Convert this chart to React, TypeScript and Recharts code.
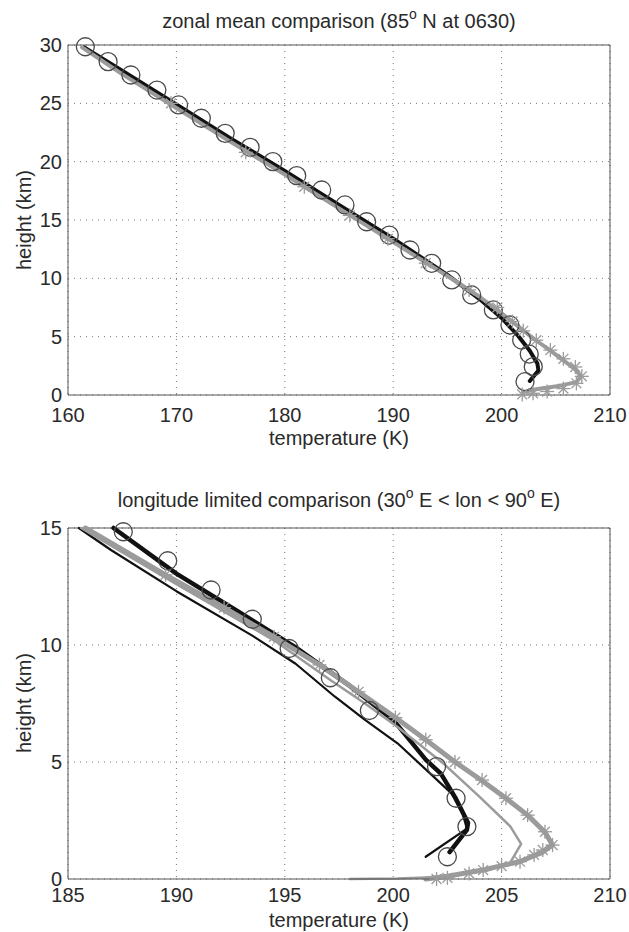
import React from 'react';
import { ComposedChart, Line, XAxis, YAxis, CartesianGrid, ReferenceLine } from 'recharts';

// ---------- top panel: zonal mean comparison ----------
const topXTicks = [160, 170, 180, 190, 200, 210];
const topYTicks = [0, 5, 10, 15, 20, 25, 30];

const topBlackT = [161.5, 165, 170, 175, 180, 185, 190, 195, 198, 200, 201.5, 202.6, 203.3, 203.4, 202.6];
const topBlackH = [29.8, 27.8, 24.9, 22.0, 19.2, 16.3, 13.4, 10.3, 8.2, 6.6, 5.1, 3.8, 2.7, 2.1, 1.2];

const topGreyT = [161.3, 165, 170, 175, 180, 185, 190, 195, 198, 200, 201.5, 203, 204.5, 205.8, 206.8, 207.3, 206.9, 205.4, 203.2, 202];
const topGreyH = [29.8, 27.5, 24.6, 21.7, 18.9, 16.0, 13.1, 10.2, 8.4, 7.0, 5.9, 4.8, 3.8, 2.9, 2.2, 1.6, 1.1, 0.8, 0.5, 0.25];

const topCircleT = [161.6, 163.7, 165.8, 168.2, 170.2, 172.3, 174.5, 176.8, 178.9, 181.1, 183.4, 185.55, 187.55, 189.64, 191.55, 193.55, 195.4, 197.24, 199.24, 200.77, 201.85, 202.55, 202.92, 202.16];
const topCircleH = [29.85, 28.57, 27.43, 26.14, 24.86, 23.72, 22.43, 21.23, 20.0, 18.8, 17.57, 16.29, 14.85, 13.71, 12.43, 11.29, 9.86, 8.57, 7.29, 6.0, 4.71, 3.51, 2.43, 1.14];

const topStarT = [169.5, 176.4, 181.8, 186.0, 189.5, 193.0, 197.0, 199.6, 201.0, 202.0, 203.2, 204.5, 205.7, 206.8, 207.4, 206.9, 205.7, 204.2, 202.9, 201.9];
const topStarH = [25.0, 20.8, 17.85, 15.4, 13.4, 11.3, 9.0, 7.5, 6.3, 5.5, 4.7, 3.85, 3.1, 2.4, 1.6, 1.0, 0.55, 0.3, 0.15, 0.05];

// ---------- bottom panel: longitude limited comparison ----------
const botXTicks = [185, 190, 195, 200, 205, 210];
const botYTicks = [0, 5, 10, 15];

const botThinBlackT = [185.5, 187, 190, 193.5, 195.5, 197.3, 198.7, 200.2, 201.6, 202.7, 203.2, 203.4, 201.5];
const botThinBlackH = [15.0, 14.05, 12.3, 10.4, 9.2, 7.8, 6.8, 5.8, 4.6, 3.65, 2.8, 2.15, 0.95];

const botThickBlackT = [187.1, 190, 192.9, 195.5, 198, 200, 201.5, 202.2, 202.85, 203.45, 203.4, 202.6];
const botThickBlackH = [15.0, 13.05, 11.4, 9.9, 8.25, 6.8, 5.1, 4.5, 3.5, 2.4, 2.1, 1.15];

const botThinGreyT = [185.6, 190, 194.5, 197.1, 198.7, 200.2, 202.3, 204.0, 205.4, 205.9, 205.4, 204.3, 202.5, 200.2, 198.0];
const botThinGreyH = [15.0, 12.6, 10.2, 8.5, 7.5, 6.5, 4.95, 3.5, 2.25, 1.5, 0.7, 0.35, 0.1, 0.02, 0.0];

const botThickGreyT = [185.8, 189.5, 192.2, 194.5, 196.6, 198.4, 200.1, 201.5, 202.85, 204.1, 205.2, 206.2, 207.0, 207.35, 206.9, 205.85, 204.2, 202.5, 201.5];
const botThickGreyH = [15.0, 13.0, 11.6, 10.35, 9.15, 8.0, 6.9, 5.95, 5.0, 4.2, 3.45, 2.73, 2.0, 1.45, 1.15, 0.75, 0.4, 0.12, 0.0];

const botCircleT = [187.55, 189.6, 191.6, 193.5, 195.2, 197.1, 198.9, 202.0, 202.9, 203.4, 202.5];
const botCircleH = [14.84, 13.6, 12.35, 11.1, 9.85, 8.6, 7.2, 4.8, 3.45, 2.24, 0.95];

const botStarT = [189.5, 192.2, 194.5, 196.6, 198.4, 200.1, 201.5, 202.85, 204.1, 205.2, 206.2, 207.0, 207.35, 206.9, 206.5, 205.85, 205.0, 204.15, 203.5, 202.5, 202.0];
const botStarH = [13.0, 11.6, 10.35, 9.15, 8.0, 6.9, 5.95, 5.0, 4.23, 3.45, 2.73, 2.02, 1.45, 1.24, 1.03, 0.74, 0.55, 0.38, 0.24, 0.05, 0.0];

const zip = (t: number[], h: number[]) => t.map((v, i) => ({ t: v, h: h[i] }));

const BLACK = '#111';
const GREY = '#9b9b9b';
const FONT = '"Liberation Sans", Arial, sans-serif';

const circleDot = (props: any) => {
  const { cx, cy, index } = props;
  if (cx == null || cy == null) return <g key={`c${index}`} />;
  return <circle key={`c${index}`} cx={cx} cy={cy} r={9} fill="none" stroke="#4a4a4a" strokeWidth={1.3} />;
};

const starDot = (props: any) => {
  const { cx, cy, index } = props;
  if (cx == null || cy == null) return <g key={`s${index}`} />;
  const r = 7;
  const d = r * 0.707;
  return (
    <g key={`s${index}`} stroke={GREY} strokeWidth={1.3}>
      <line x1={cx - r} y1={cy} x2={cx + r} y2={cy} />
      <line x1={cx} y1={cy - r} x2={cx} y2={cy + r} />
      <line x1={cx - d} y1={cy - d} x2={cx + d} y2={cy + d} />
      <line x1={cx - d} y1={cy + d} x2={cx + d} y2={cy - d} />
    </g>
  );
};

const tickStyle = { fontSize: 20, fill: '#2a2a2a', fontFamily: FONT };

const lineSeries = (key: string, data: any[], stroke: string, width: number) => (
  <Line
    key={key}
    data={data}
    dataKey="h"
    type="linear"
    stroke={stroke}
    strokeWidth={width}
    dot={false}
    activeDot={false}
    isAnimationActive={false}
    strokeLinejoin="round"
    strokeLinecap="round"
  />
);

const markerSeries = (key: string, data: any[], dot: any) => (
  <Line
    key={key}
    data={data}
    dataKey="h"
    type="linear"
    stroke="none"
    dot={dot}
    activeDot={false}
    isAnimationActive={false}
  />
);

const Panel = ({ xDomain, yDomain, xTicks, yTicks, height, marginTop, plotHeight, xTickMargin, children }: any) => (
  <ComposedChart width={629} height={height} margin={{ top: marginTop, right: 19, bottom: 0, left: 0 }}>
    <CartesianGrid stroke="#777" strokeDasharray="1 5" />
    <XAxis
      dataKey="t"
      type="number"
      domain={xDomain}
      ticks={xTicks}
      tickLine={false}
      tickSize={6}
      tickMargin={xTickMargin}
      axisLine={{ stroke: '#555' }}
      tick={tickStyle}
      height={height - marginTop - plotHeight}
      interval={0}
    />
    <YAxis
      dataKey="h"
      type="number"
      domain={yDomain}
      ticks={yTicks}
      tickLine={false}
      tickSize={6}
      tickMargin={0}
      axisLine={{ stroke: '#555' }}
      tick={tickStyle}
      width={68}
      interval={0}
    />
    <ReferenceLine y={yDomain[1]} stroke="#555" />
    <ReferenceLine x={xDomain[1]} stroke="#555" />
    {children}
  </ComposedChart>
);

const textBase: React.CSSProperties = {
  position: 'absolute',
  fontFamily: FONT,
  color: '#2a2a2a',
  whiteSpace: 'nowrap',
  lineHeight: '22px',
  textAlign: 'center',
};

const Sup = ({ children }: any) => (
  <span style={{ fontSize: 14, position: 'relative', top: -9 }}>{children}</span>
);

export default function App() {
  return (
    <div style={{ position: 'absolute', left: 0, top: 0, width: 629, height: 932, background: '#fff' }}>
      <div style={{ position: 'absolute', left: 0, top: 0 }}>
        <Panel xDomain={[160, 210]} yDomain={[0, 30]} xTicks={topXTicks} yTicks={topYTicks} height={465} marginTop={45} plotHeight={350} xTickMargin={7}>
          {markerSeries('tc', zip(topCircleT, topCircleH), circleDot)}
          {lineSeries('tb', zip(topBlackT, topBlackH), BLACK, 4)}
          {lineSeries('tg', zip(topGreyT, topGreyH), GREY, 4)}
          {markerSeries('ts', zip(topStarT, topStarH), starDot)}
        </Panel>
      </div>
      <div style={{ position: 'absolute', left: 0, top: 465 }}>
        <Panel xDomain={[185, 210]} yDomain={[0, 15]} xTicks={botXTicks} yTicks={botYTicks} height={467} marginTop={63} plotHeight={351} xTickMargin={3}>
          {markerSeries('bc', zip(botCircleT, botCircleH), circleDot)}
          {lineSeries('bb1', zip(botThinBlackT, botThinBlackH), BLACK, 2.2)}
          {lineSeries('bb2', zip(botThickBlackT, botThickBlackH), BLACK, 4.5)}
          {lineSeries('bg1', zip(botThinGreyT, botThinGreyH), GREY, 2.5)}
          {lineSeries('bg2', zip(botThickGreyT, botThickGreyH), GREY, 5)}
          {markerSeries('bs', zip(botStarT, botStarH), starDot)}
        </Panel>
      </div>

      <div style={{ ...textBase, left: 89, width: 500, top: 10, fontSize: 20 }}>
        zonal mean comparison (85<Sup>o</Sup> N at 0630)
      </div>
      <div style={{ ...textBase, left: 189, width: 300, top: 427, fontSize: 20 }}>temperature (K)</div>
      <div style={{ ...textBase, left: 39, width: 600, top: 489, fontSize: 20 }}>
        longitude limited comparison (30<Sup>o</Sup> E &lt; lon &lt; 90<Sup>o</Sup> E)
      </div>
      <div style={{ ...textBase, left: 189, width: 300, top: 909, fontSize: 20 }}>temperature (K)</div>

      <div style={{ ...textBase, left: 24 - 100, width: 200, top: 220 - 11, fontSize: 20, transform: 'rotate(-90deg)' }}>
        height (km)
      </div>
      <div style={{ ...textBase, left: 24 - 100, width: 200, top: 703 - 11, fontSize: 20, transform: 'rotate(-90deg)' }}>
        height (km)
      </div>
    </div>
  );
}
